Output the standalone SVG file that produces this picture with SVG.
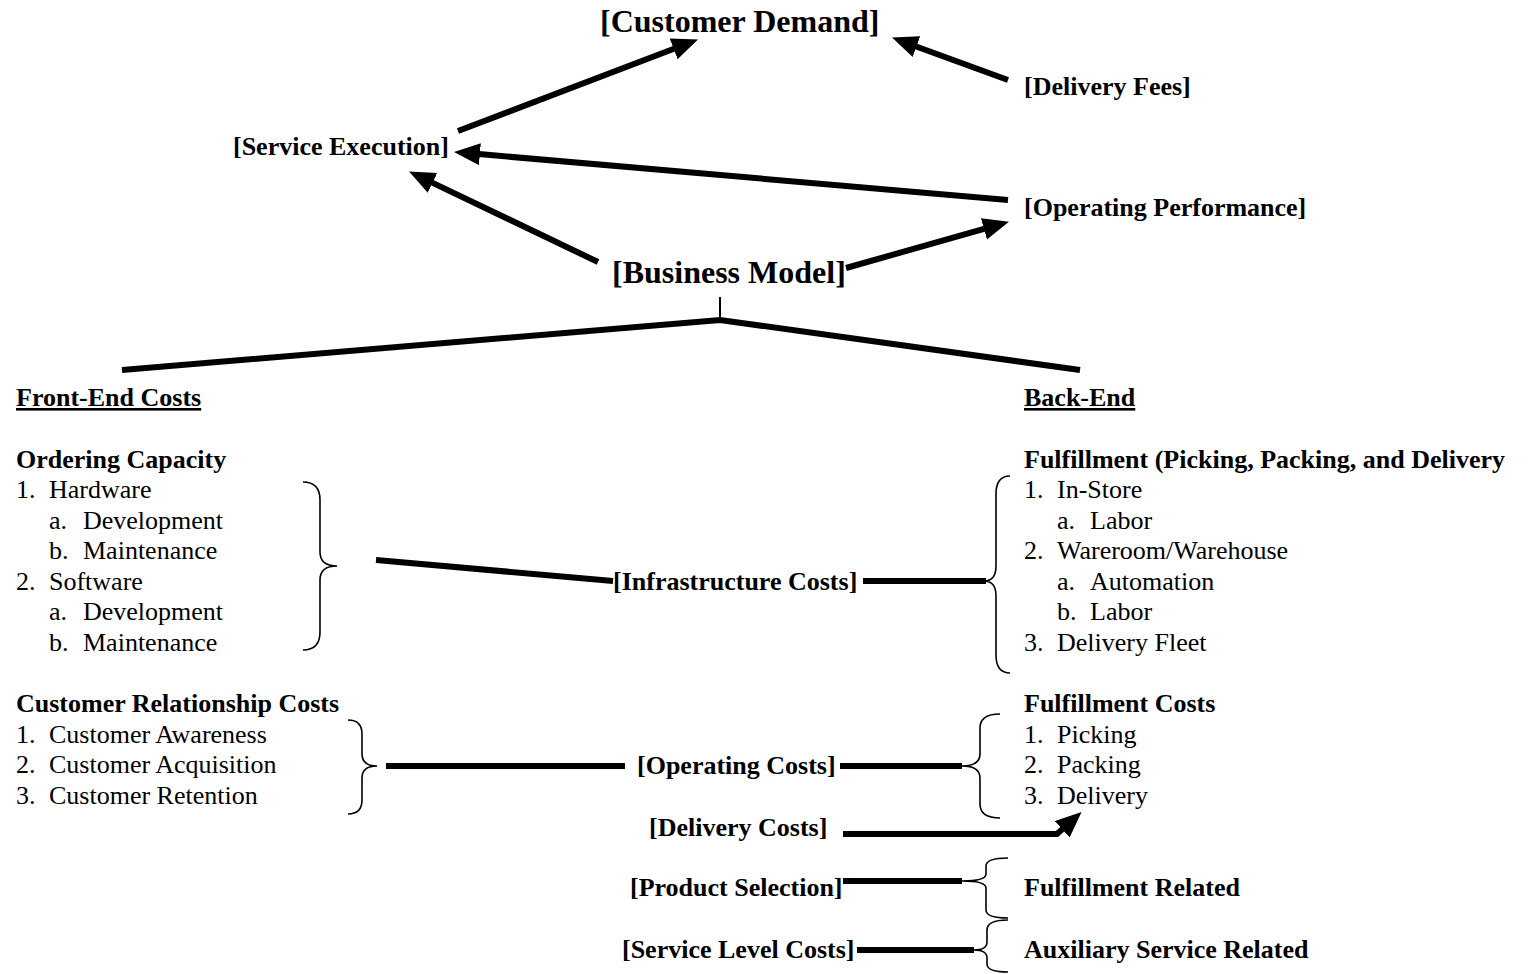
<svg xmlns="http://www.w3.org/2000/svg" width="1529" height="974" viewBox="0 0 1529 974">
  <defs>
    <marker id="head" markerUnits="userSpaceOnUse" markerWidth="28" markerHeight="24" refX="1" refY="11" orient="auto">
      <path d="M0,0 L26,11 L0,22 Z" fill="#000"/>
    </marker>
    <style>
      text { font-family: "Liberation Serif", "Times New Roman", serif; fill: #000; }
      .t { font-size: 26px; }
      .b { font-size: 26px; font-weight: bold; }
      .big { font-size: 32px; font-weight: bold; }
      .u { text-decoration: underline; }
      .wire { fill: none; stroke: #000; stroke-width: 6; }
      .arrow { fill: none; stroke: #000; stroke-width: 6; marker-end: url(#head); }
      .brace { fill: none; stroke: #000; stroke-width: 1.6; }
      .thin { fill: none; stroke: #000; stroke-width: 2; }
    </style>
  </defs>

  <!-- connectors -->
  <g id="connectors">
    <line class="arrow" x1="458" y1="131" x2="674.6" y2="48.5"/>
    <line class="arrow" x1="1008" y1="80" x2="915.5" y2="46.2"/>
    <line class="arrow" x1="1008" y1="200" x2="478.9" y2="154.1"/>
    <line class="arrow" x1="598" y1="262" x2="431.6" y2="182.4"/>
    <line class="arrow" x1="846" y1="268" x2="984.9" y2="228.6"/>
    <line class="thin" x1="720" y1="297" x2="720" y2="321"/>
    <polyline class="wire" points="122,370 720,320 1080,370"/>
    <line class="wire" x1="376" y1="560" x2="613" y2="581"/>
    <line class="wire" x1="863" y1="581" x2="986" y2="581"/>
    <line class="wire" x1="386" y1="766" x2="625" y2="766"/>
    <line class="wire" x1="840" y1="766" x2="962" y2="766"/>
    <polyline class="arrow" points="843,834 1057,834 1063,828.6"/>
    <line class="wire" x1="843" y1="881" x2="962" y2="881"/>
    <line class="wire" x1="857" y1="950" x2="974" y2="950"/>
    <!-- braces -->
    <path class="brace" d="M303,482 Q320,482 320,500 L320,552 Q320,566 337,566 Q320,566 320,580 L320,632 Q320,650 303,650"/>
    <path class="brace" d="M1010,476 Q996,476 996,494 L996,566 Q996,581 984,581 Q996,581 996,596 L996,655 Q996,673 1010,673"/>
    <path class="brace" d="M348,720 Q362,720 362,734 L362,754 Q362,766 377,766 Q362,766 362,778 L362,800 Q362,814 348,814"/>
    <path class="brace" d="M1000,714 Q980,714 980,728 L980,754 Q980,766 962,766 Q980,766 980,778 L980,804 Q980,818 1000,818"/>
    <path class="brace" d="M1008,858 Q986,858 986,866 L986,874 Q986,881 962,881 Q986,881 986,888 L986,910 Q986,918 1008,918"/>
    <path class="brace" d="M1008,920 Q987,920 987,930 L987,942 Q987,950 974,950 Q987,950 987,958 L987,964 Q987,972 1008,972"/>
  </g>

  <g id="customer-demand"><text class="big" x="600" y="32">[Customer Demand]</text></g>
  <g id="delivery-fees"><text class="b" x="1024" y="95">[Delivery Fees]</text></g>
  <g id="service-execution"><text class="b" x="233" y="155">[Service Execution]</text></g>
  <g id="operating-performance"><text class="b" x="1024" y="216">[Operating Performance]</text></g>
  <g id="business-model"><text class="big" x="612" y="283">[Business Model]</text></g>

  <g id="front-end">
    <text class="b u" x="16" y="406">Front-End Costs</text>
    <text class="b" x="16" y="468">Ordering Capacity</text>
    <text class="t" x="16" y="498">1.</text><text class="t" x="49" y="498">Hardware</text>
    <text class="t" x="49" y="529">a.</text><text class="t" x="83" y="529">Development</text>
    <text class="t" x="49" y="559">b.</text><text class="t" x="83" y="559">Maintenance</text>
    <text class="t" x="16" y="590">2.</text><text class="t" x="49" y="590">Software</text>
    <text class="t" x="49" y="620">a.</text><text class="t" x="83" y="620">Development</text>
    <text class="t" x="49" y="651">b.</text><text class="t" x="83" y="651">Maintenance</text>
  </g>

  <g id="customer-relationship">
    <text class="b" x="16" y="712">Customer Relationship Costs</text>
    <text class="t" x="16" y="743">1.</text><text class="t" x="49" y="743">Customer Awareness</text>
    <text class="t" x="16" y="773">2.</text><text class="t" x="49" y="773">Customer Acquisition</text>
    <text class="t" x="16" y="804">3.</text><text class="t" x="49" y="804">Customer Retention</text>
  </g>

  <g id="back-end">
    <text class="b u" x="1024" y="406">Back-End</text>
    <text class="b" x="1024" y="468">Fulfillment (Picking, Packing, and Delivery</text>
    <text class="t" x="1024" y="498">1.</text><text class="t" x="1057" y="498">In-Store</text>
    <text class="t" x="1057" y="529">a.</text><text class="t" x="1090" y="529">Labor</text>
    <text class="t" x="1024" y="559">2.</text><text class="t" x="1057" y="559">Wareroom/Warehouse</text>
    <text class="t" x="1057" y="590">a.</text><text class="t" x="1090" y="590">Automation</text>
    <text class="t" x="1057" y="620">b.</text><text class="t" x="1090" y="620">Labor</text>
    <text class="t" x="1024" y="651">3.</text><text class="t" x="1057" y="651">Delivery Fleet</text>
  </g>

  <g id="fulfillment-costs">
    <text class="b" x="1024" y="712">Fulfillment Costs</text>
    <text class="t" x="1024" y="743">1.</text><text class="t" x="1057" y="743">Picking</text>
    <text class="t" x="1024" y="773">2.</text><text class="t" x="1057" y="773">Packing</text>
    <text class="t" x="1024" y="804">3.</text><text class="t" x="1057" y="804">Delivery</text>
  </g>

  <g id="infrastructure-costs"><text class="b" x="613" y="590">[Infrastructure Costs]</text></g>
  <g id="operating-costs"><text class="b" x="637" y="774">[Operating Costs]</text></g>
  <g id="delivery-costs"><text class="b" x="649" y="836">[Delivery Costs]</text></g>
  <g id="product-selection"><text class="b" x="630" y="896">[Product Selection]</text></g>
  <g id="service-level-costs"><text class="b" x="622" y="958">[Service Level Costs]</text></g>
  <g id="fulfillment-related"><text class="b" x="1024" y="896">Fulfillment Related</text></g>
  <g id="auxiliary-service-related"><text class="b" x="1024" y="958">Auxiliary Service Related</text></g>
</svg>
